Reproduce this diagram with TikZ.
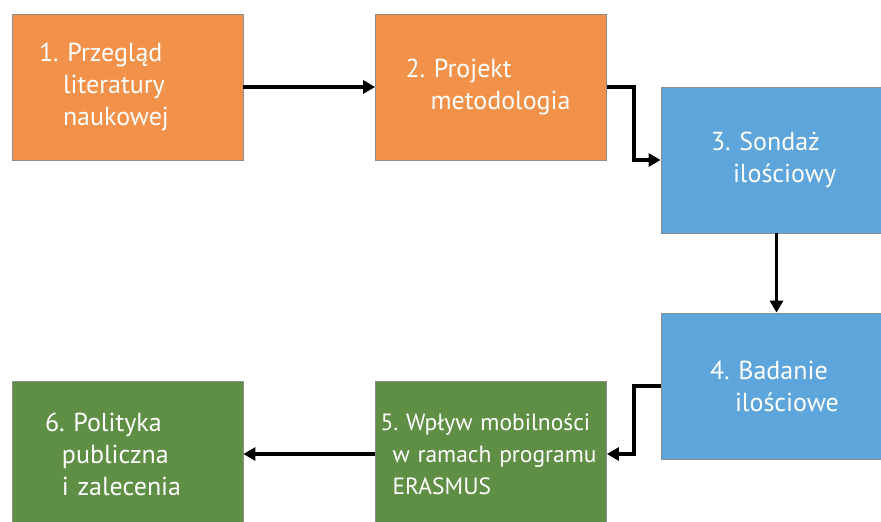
\documentclass[tikz,border=0pt]{standalone}
\usepackage{fontspec}
\setmainfont{PT Sans}
\frenchspacing
\usetikzlibrary{arrows.meta,calc}
\definecolor{orng}{HTML}{F29149}
\definecolor{sky}{HTML}{5DA5DA}
\definecolor{leaf}{HTML}{5F8F45}
\definecolor{rim}{HTML}{8C8C8C}
\tikzset{box/.style={draw=rim,line width=0.8pt,fill=orng,minimum height=146pt,align=left,text=white,font=\fontsize{26}{32}\selectfont,inner ysep=0pt},bluebox/.style={box,fill=sky},greenbox/.style={box,fill=leaf},arr/.style={-{Triangle[length=12pt,width=13pt]},line width=3.8pt,draw=black}}

\begin{document}
\begin{tikzpicture}[x=1pt,y=-1pt]
\useasboundingbox[fill=white] (0,0) rectangle (881,522);
\node[box,inner xsep=27pt,text width=177pt] (lit) at (127.5,87) {1. Przegląd\\\hspace*{24pt}literatury\\\hspace*{24pt}naukowej};
\node[box,inner xsep=30pt,text width=171pt] (proj) at (491,87) {2. Projekt\\\hspace*{25pt}metodologia};
\node[bluebox,inner xsep=50pt,text width=131pt] (sond) at (776.5,160) {3. Sondaż\\\hspace*{22pt}ilościowy};
\node[bluebox,inner xsep=49pt,text width=133pt] (bad) at (776.5,386) {4. Badanie\\\hspace*{25pt}ilościowe};
\node[greenbox,font=\fontsize{23.5}{32}\selectfont,inner xsep=5pt,text width=221pt] (wpl) at (491,454) {\mbox{5. Wpływ mobilności}\\\mbox{\hspace*{12pt}w ramach programu}\\\mbox{\hspace*{12pt}ERASMUS}};
\node[greenbox,inner xsep=33pt,text width=165pt] (pol) at (127.5,454) {6. Polityka\\\hspace*{17pt}publiczna\\\hspace*{17pt}i zalecenia};
\draw[arr] (lit)--(proj);
\draw[arr] (proj.east) -| ($(proj.east)!.5!(sond.west)$) |- (sond.west);
\draw[arr] (sond)--(bad);
\draw[arr] (bad.west) -| ($(bad.west)!.5!(wpl.east)$) |- (wpl.east);
\draw[arr] (wpl)--(pol);
\end{tikzpicture}
\end{document}
